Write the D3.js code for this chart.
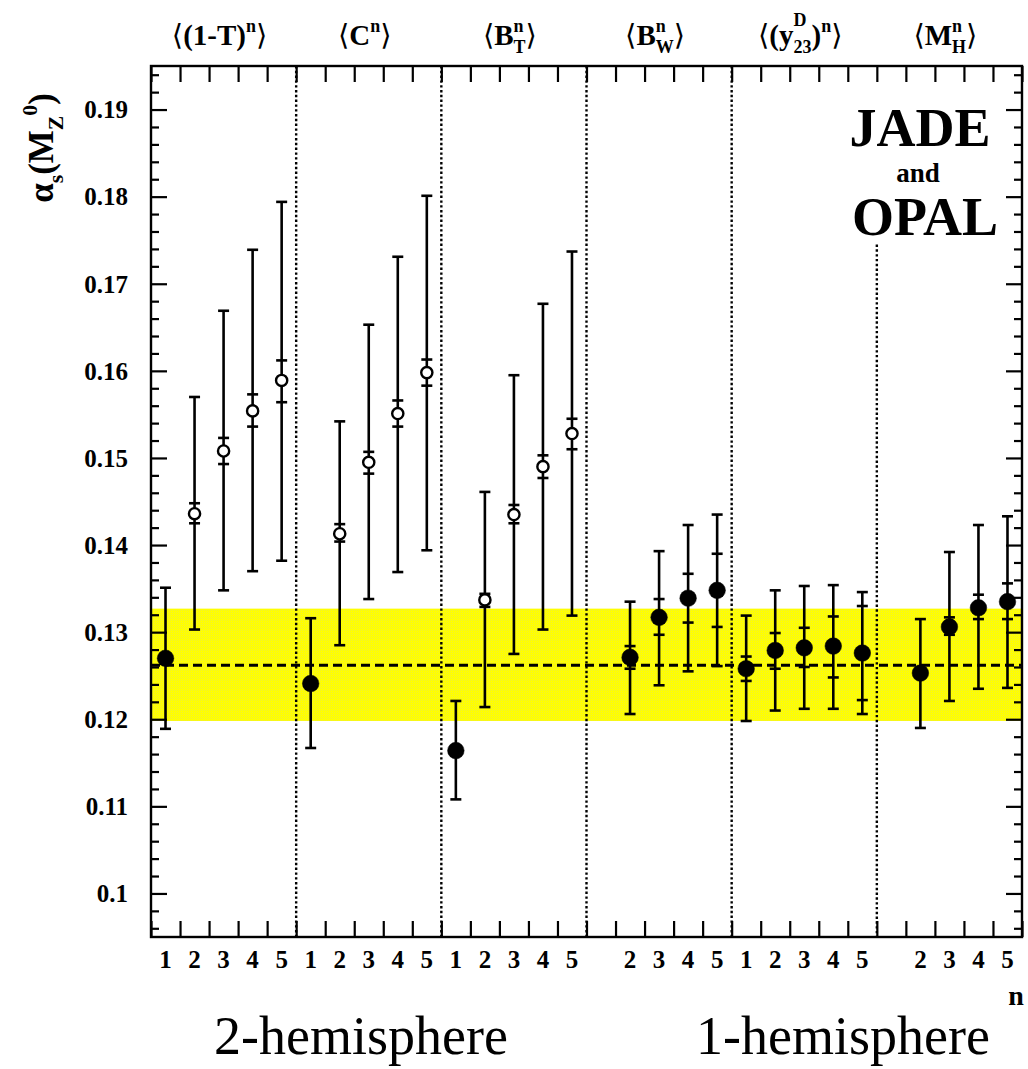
<!DOCTYPE html>
<html><head><meta charset="utf-8">
<script src="https://cdn.jsdelivr.net/npm/d3@7"></script>
<style>html,body{margin:0;padding:0;background:#fff;} svg{display:block;}</style>
</head><body>
<svg id="c" width="1028" height="1069"></svg>
<script>
// ---------- DATA ----------
const slotLabels = ["1","2","3","4","5","1","2","3","4","5","1","2","3","4","5","","2","3","4","5","1","2","3","4","5","","2","3","4","5"];
const groupBoundaries = [5, 10, 15, 20, 25];
const pointSlots = [0,1,2,3,4, 5,6,7,8,9, 10,11,12,13,14, 16,17,18,19, 20,21,22,23,24, 26,27,28,29];
const alphaS  = [0.1270,0.1436,0.1508,0.1554,0.1589, 0.1241,0.1413,0.1495,0.1551,0.1598, 0.1164,0.1337,0.1435,0.1490,0.1528, 0.1271,0.1317,0.1339,0.1348, 0.1258,0.1279,0.1282,0.1284,0.1276, 0.1253,0.1306,0.1328,0.1335];
const totalHi = [0.1351,0.1570,0.1669,0.1739,0.1794, 0.1316,0.1542,0.1653,0.1731,0.1801, 0.1221,0.1461,0.1595,0.1677,0.1737, 0.1335,0.1393,0.1423,0.1435, 0.1319,0.1348,0.1353,0.1354,0.1346, 0.1315,0.1392,0.1423,0.1433];
const totalLo = [0.1189,0.1303,0.1348,0.1370,0.1382, 0.1167,0.1285,0.1338,0.1369,0.1394, 0.1108,0.1214,0.1275,0.1303,0.1319, 0.1206,0.1239,0.1255,0.1261, 0.1198,0.1210,0.1212,0.1212,0.1206, 0.1190,0.1221,0.1235,0.1236];
const statHi  = [0.1272,0.1448,0.1523,0.1573,0.1612, 0.1243,0.1424,0.1507,0.1566,0.1613, 0.1166,0.1344,0.1446,0.1503,0.1545, 0.1284,0.1338,0.1367,0.1390, 0.1272,0.1299,0.1305,0.1318,0.1330, 0.1255,0.1317,0.1343,0.1356];
const statLo  = [0.1268,0.1425,0.1493,0.1536,0.1564, 0.1239,0.1404,0.1482,0.1536,0.1583, 0.1162,0.1329,0.1425,0.1477,0.1510, 0.1258,0.1297,0.1311,0.1306, 0.1244,0.1258,0.1260,0.1248,0.1222, 0.1251,0.1297,0.1315,0.1315];
const filledPoint = [1,0,0,0,0, 1,0,0,0,0, 1,0,0,0,0, 1,1,1,1, 1,1,1,1,1, 1,1,1,1];
const bandCentre = 0.1262, bandLo = 0.1198, bandHi = 0.1327;
const yMajorTicks = [0.10,0.11,0.12,0.13,0.14,0.15,0.16,0.17,0.18,0.19];
const yTickLabels = ["0.1","0.11","0.12","0.13","0.14","0.15","0.16","0.17","0.18","0.19"];
const bottomTitles = ["2-hemisphere","1-hemisphere"];
// group label pieces: t text, k kind (n normal, b bracket, sup, sub, supHigh), s stacked on previous
const groupLabels = [
  [{t:"⟨",k:"b"},{t:"(1-T)"},{t:"n",k:"sup"},{t:"⟩",k:"b"}],
  [{t:"⟨",k:"b"},{t:"C"},{t:"n",k:"sup"},{t:"⟩",k:"b"}],
  [{t:"⟨",k:"b"},{t:"B"},{t:"n",k:"sup"},{t:"T",k:"sub",s:1},{t:"⟩",k:"b"}],
  [{t:"⟨",k:"b"},{t:"B"},{t:"n",k:"sup"},{t:"W",k:"sub",s:1},{t:"⟩",k:"b"}],
  [{t:"⟨",k:"b"},{t:"(y"},{t:"D",k:"supHigh"},{t:"23",k:"sub",s:1},{t:")"},{t:"n",k:"sup"},{t:"⟩",k:"b"}],
  [{t:"⟨",k:"b"},{t:"M"},{t:"n",k:"sup"},{t:"H",k:"sub",s:1},{t:"⟩",k:"b"}]
];
const yTitle = [{t:"α"},{t:"s",k:"sub"},{t:"(M"},{t:"Z",k:"sub"},{t:"0",k:"sup"},{t:")"}];

// ---------- LAYOUT ----------
const L = 151, R = 1022, T = 66, B = 937;
const FONT = "'Liberation Serif','Times New Roman',Times,'DejaVu Serif',serif";
const svg = d3.select("#c");
const x = d3.scaleLinear().domain([0, 30]).range([L, R]);
const y = d3.scaleLinear().domain([0.095, 0.195]).range([B, T]);

// band pattern
const defs = svg.append("defs");
const pat = defs.append("pattern").attr("id","dith").attr("width",2).attr("height",2).attr("patternUnits","userSpaceOnUse");
pat.append("rect").attr("width",2).attr("height",2).attr("fill","#ffff00");
pat.append("rect").attr("width",1).attr("height",1).attr("fill","#f0f030");

svg.append("rect").attr("x", L).attr("width", R - L)
  .attr("y", y(bandHi)).attr("height", y(bandLo) - y(bandHi)).attr("fill","url(#dith)");

svg.append("line").attr("x1", L).attr("x2", R).attr("y1", y(bandCentre)).attr("y2", y(bandCentre))
  .attr("stroke","#000").attr("stroke-width",3).attr("stroke-dasharray","9,5");

// dotted group separators
svg.selectAll("line.sep").data(groupBoundaries).join("line").attr("class","sep")
  .attr("x1", d => x(d)).attr("x2", d => x(d))
  .attr("y1", d => d === 25 ? y(0.1745) : T).attr("y2", B)
  .attr("stroke","#000").attr("stroke-width",2.4).attr("stroke-dasharray","2.4,2.4");

// points
const pts = pointSlots.map((s, i) => ({cx: x(s + 0.5), v: alphaS[i], th: totalHi[i], tl: totalLo[i], sh: statHi[i], sl: statLo[i], f: filledPoint[i]}));
const eb = svg.append("g").attr("stroke","#000").attr("stroke-width",2.6);
const capW = 5.5;
pts.forEach(p => {
  eb.append("line").attr("x1", p.cx).attr("x2", p.cx).attr("y1", y(p.th)).attr("y2", y(p.tl));
  [p.th, p.tl].forEach(v => eb.append("line").attr("x1", p.cx - capW).attr("x2", p.cx + capW).attr("y1", y(v)).attr("y2", y(v)));
  if (!p.f || y(p.sl) - y(p.sh) > 16) {
    [p.sh, p.sl].forEach(v => eb.append("line").attr("x1", p.cx - capW).attr("x2", p.cx + capW).attr("y1", y(v)).attr("y2", y(v)));
  }
});
svg.append("g").selectAll("circle").data(pts).join("circle")
  .attr("cx", d => d.cx).attr("cy", d => y(d.v))
  .attr("r", d => d.f ? 8.3 : 5.6)
  .attr("fill", d => d.f ? "#000" : "#fff")
  .attr("stroke","#000").attr("stroke-width", d => d.f ? 0.5 : 2.4);

// axes
const yMinor = d3.range(0.096, 0.1951, 0.002).filter(v => Math.abs(Math.round(v*100) - v*100) > 1e-6);
function styleAxis(g) { g.select(".domain").remove(); g.selectAll("line").attr("stroke","#000").attr("stroke-width",2.2); }
svg.append("g").attr("transform",`translate(${L},0)`)
  .call(d3.axisLeft(y).tickValues(yMajorTicks).tickSize(-16).tickPadding(23).tickFormat((d,i)=>yTickLabels[i]))
  .call(styleAxis)
  .call(g => g.selectAll("text").attr("font-family",FONT).attr("font-weight","bold").attr("font-size",25).attr("fill","#000").attr("dy","0.33em"));
svg.append("g").attr("transform",`translate(${L},0)`)
  .call(d3.axisLeft(y).tickValues(yMinor).tickSize(-8).tickFormat("")).call(styleAxis);
svg.append("g").attr("transform",`translate(${R},0)`)
  .call(d3.axisRight(y).tickValues(yMajorTicks).tickSize(-16).tickFormat("")).call(styleAxis);
svg.append("g").attr("transform",`translate(${R},0)`)
  .call(d3.axisRight(y).tickValues(yMinor).tickSize(-8).tickFormat("")).call(styleAxis);
svg.append("g").attr("transform",`translate(0,${B})`)
  .call(d3.axisBottom(x).tickValues(d3.range(0,31)).tickSize(-16).tickFormat("")).call(styleAxis);
svg.append("g").attr("transform",`translate(0,${T})`)
  .call(d3.axisTop(x).tickValues(d3.range(0,31)).tickSize(-16).tickFormat("")).call(styleAxis);

// slot labels
svg.append("g").selectAll("text").data(slotLabels).join("text")
  .attr("x", (d,i) => x(i + 0.5)).attr("y", 968)
  .attr("text-anchor","middle").attr("font-family",FONT).attr("font-weight","bold").attr("font-size",25).text(d => d);

// frame
svg.append("rect").attr("x",L).attr("y",T).attr("width",R-L).attr("height",B-T)
  .attr("fill","none").attr("stroke","#000").attr("stroke-width",2.4);

// rich text helper: one <text> with positioned tspans
function rich(parent, pieces, cx, by, size) {
  const t = parent.append("text").attr("font-family",FONT).attr("font-weight","bold").attr("fill","#000");
  let cur = 0, prevStart = 0, prevW = 0;
  const spans = [];
  pieces.forEach(p => {
    const k = p.k || "n";
    const fs = (k === "n" || k === "b") ? size : size * 0.62;
    const dy = k === "sup" ? -size*0.45 : k === "supHigh" ? -size*0.66 : k === "sub" ? size*0.28 : 0;
    const sx = p.s ? prevStart : cur;
    const ts = t.append("tspan").attr("x", sx).attr("y", dy).attr("font-size", fs).text(p.t);
    if (k === "b") ts.attr("font-weight","normal");
    const w = ts.node().getComputedTextLength();
    spans.push(ts);
    if (p.s) { cur = prevStart + Math.max(prevW, w); }
    else { prevStart = sx; prevW = w; cur = sx + w; }
  });
  spans.forEach(ts => ts.attr("x", +ts.attr("x") + cx - cur/2).attr("y", +ts.attr("y") + by));
  return t;
}
const topLabels = svg.append("g");
groupLabels.forEach((gl, i) => rich(topLabels, gl, x(i*5 + 2.5) - 4, 45, 29));

const yTitleG = svg.append("g").attr("transform","translate(53,148) rotate(-90)");
rich(yTitleG, yTitle, 0, 0, 35);

// JADE and OPAL
const jo = svg.append("g").attr("font-family",FONT).attr("font-weight","bold").attr("text-anchor","middle").attr("fill","#000");
jo.append("text").attr("x",920).attr("y",146).attr("font-size",54).text("JADE");
jo.append("text").attr("x",918).attr("y",182).attr("font-size",27).text("and");
jo.append("text").attr("x",925).attr("y",235).attr("font-size",54).text("OPAL");

svg.append("text").attr("x",1016).attr("y",1005).attr("text-anchor","middle").attr("font-family",FONT).attr("font-weight","bold").attr("font-size",28).text("n");

svg.append("g").selectAll("text").data(bottomTitles).join("text")
  .attr("x", (d,i) => i === 0 ? 361 : 843).attr("y", 1054)
  .attr("text-anchor","middle").attr("font-family",FONT).attr("font-size",54).text(d => d);
</script>
</body></html>
